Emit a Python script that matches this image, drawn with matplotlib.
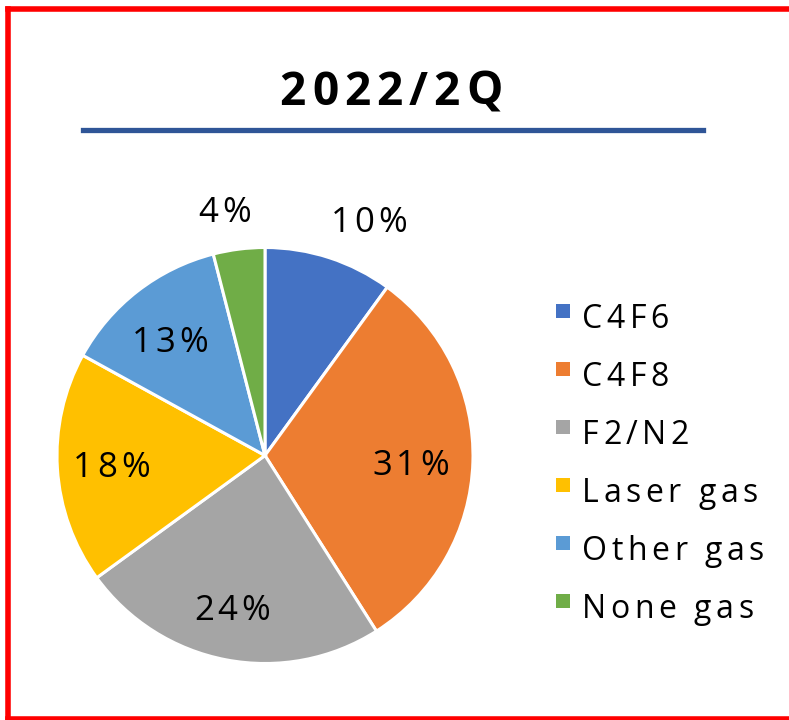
import numpy as np
import matplotlib
matplotlib.use("Agg")
import matplotlib.pyplot as plt
from matplotlib.patches import Rectangle
from matplotlib.lines import Line2D

# Data
title = "2022/2Q"
categories = ["C4F6", "C4F8", "F2/N2", "Laser gas", "Other gas", "None gas"]
shares = [10, 31, 24, 18, 13, 4]
colors = ["#4472C4", "#ED7D31", "#A5A5A5", "#FFC000", "#5B9BD5", "#70AD47"]

# label placement (radius as fraction of pie radius, small angle nudge in degrees)
label_r = [1.24, 0.70, 0.75, 0.74, 0.72, 1.20]
label_nudge = [-5.8, -1.0, -1.4, -0.4, 1.6, 2.2]

FONT = ["Open Sans", "DejaVu Sans"]
W, H = 789, 720
fig = plt.figure(figsize=(W / 100, H / 100), dpi=100)
renderer = fig.canvas.get_renderer()


def spaced_text(x, y, s, gap, size, ha="center", weight="normal"):
    # x, y in pixels from top-left; y is the baseline
    widths = []
    for ch in s:
        t = fig.text(0, 0, ch, fontsize=size, weight=weight, family=FONT)
        widths.append(t.get_window_extent(renderer).width)
        t.remove()
    total = sum(widths) + gap * (len(s) - 1)
    x0 = x - total / 2 if ha == "center" else x
    for ch, w in zip(s, widths):
        fig.text(x0 / W, 1 - y / H, ch, fontsize=size, weight=weight, family=FONT,
                 ha="left", va="baseline", color="black")
        x0 += w + gap


# pie
cx, cy, R = 265, 455.5, 208
half = 230
ax = fig.add_axes([(cx - half) / W, (H - cy - half) / H, 2 * half / W, 2 * half / H])
wedges, _ = ax.pie(shares, colors=colors, startangle=90, counterclock=False,
                   radius=1, wedgeprops=dict(edgecolor="white", linewidth=2.2))
ax.set_xlim(-half / R, half / R)
ax.set_ylim(-half / R, half / R)
ax.set_aspect("equal")
ax.axis("off")

# percentage labels
total = sum(shares)
start = 90.0
for val, r, nudge in zip(shares, label_r, label_nudge):
    sweep = 360.0 * val / total
    mid = np.deg2rad(start - sweep / 2 + nudge)
    start -= sweep
    px, py = ax.transData.transform((r * np.cos(mid), r * np.sin(mid)))
    spaced_text(px, H - py + 12.5, f"{val}%", 4, 25)

# title and rule
spaced_text(391, 105, title, 6, 33, weight="bold")
fig.add_artist(Line2D([83 / W, 703 / W], [1 - 129.5 / H, 1 - 129.5 / H],
                      color="#2F5597", linewidth=3.8, transform=fig.transFigure))

# legend
for i, (name, col) in enumerate(zip(categories, colors)):
    yb = 328 + i * 58
    fig.add_artist(Rectangle((556 / W, 1 - (yb - 10) / H), 14 / W, 14 / H,
                             facecolor=col, edgecolor="none", transform=fig.transFigure))
    spaced_text(582, yb, name, 4.5, 23, ha="left")

# red frame
for xs, ys in [([8, 8], [9, 718.5]), ([8, 800], [9, 9]), ([8, 800], [718.5, 718.5])]:
    fig.add_artist(Line2D([v / W for v in xs], [1 - v / H for v in ys],
                          color="#FF0000", linewidth=4, transform=fig.transFigure,
                          solid_capstyle="projecting"))

fig.savefig("out.png", dpi=100)
